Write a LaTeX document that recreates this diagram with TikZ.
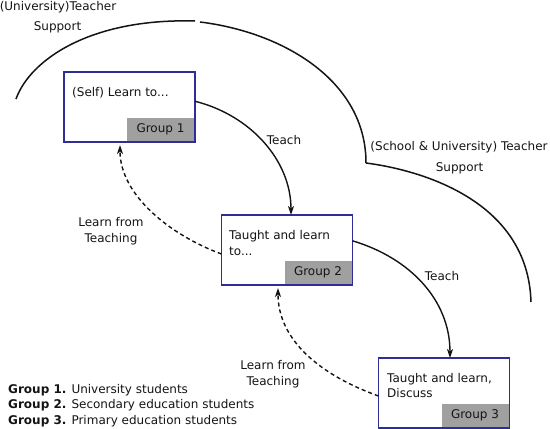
\documentclass[tikz,border=0pt]{standalone}
\usepackage{fontspec}
\setmainfont{DejaVu Sans}
\usetikzlibrary{arrows.meta}
\definecolor{boxblue}{RGB}{46,46,150}
\definecolor{taggray}{RGB}{160,160,160}
\definecolor{ink}{RGB}{20,20,20}
\tikzset{
  groupbox/.style={draw=boxblue, line width=1.6pt, fill=white, minimum width=131pt, minimum height=70pt, inner sep=0pt, outer sep=0pt},
  tagbox/.style={fill=taggray, minimum width=67pt, minimum height=23pt, inner sep=0pt, anchor=south east, font=\fontsize{12}{14}\selectfont, text=ink},
  txt/.style={inner sep=0pt, font=\fontsize{12}{15.5}\selectfont, text=ink},
  support/.style={draw=ink, line width=1.5pt},
  teach/.style={draw=ink, line width=1.4pt, -{Stealth[length=9pt,width=6pt,inset=2.5pt]}},
  learn/.style={draw=ink, line width=1.4pt, dash pattern=on 4pt off 3pt, -{Stealth[length=9pt,width=6pt,inset=2.5pt]}}
}
\begin{document}
\begin{tikzpicture}[x=1pt,y=-1pt]
\useasboundingbox (0,0) rectangle (550,429);
% support arcs
\coordinate (a0) at (16,99);
\coordinate (a1) at (195,21);
\coordinate (a2) at (200,22);
\coordinate (a3) at (366,163);
\coordinate (a4) at (531,302);
\draw[support] (a0) .. controls (30,60) and (90,18) .. (a1);
\draw[support] (a2) .. controls (282,32) and (366,80) .. (a3);
\draw[support] (a3) .. controls (420,170) and (528,200) .. (a4);
\node[txt] (t1a) at (58,7) {(University)Teacher};
\node[txt] (t1b) at (57.5,27) {Support};
\node[txt] (t2a) at (459,147) {(School \& University) Teacher};
\node[txt] (t2b) at (459.5,168) {Support};
% boxes
\node[groupbox] (b1) at (129.5,107) {};
\node[groupbox] (b2) at (287,250) {};
\node[groupbox] (b3) at (444,393) {};
\node[tagbox] (g1) at ([xshift=-0.8pt,yshift=0.8pt]b1.south east) {Group 1};
\node[tagbox] (g2) at ([xshift=-0.8pt,yshift=0.8pt]b2.south east) {Group 2};
\node[tagbox] (g3) at ([xshift=-0.8pt,yshift=0.8pt]b3.south east) {Group 3};
\node[txt, anchor=west] (l1) at (72,93) {(Self) Learn to...};
\node[txt, anchor=west, align=left] (l2) at (229,243) {Taught and learn\\to...};
\node[txt, anchor=west, align=left] (l3) at (387,385.5) {Taught and learn,\\Discuss};
% connectors
\draw[teach] (b1.5) .. controls (250,115) and (291,160) .. ([xshift=4pt]b2.north);
\draw[teach] (b2.8) .. controls (410,258) and (450,300) .. ([xshift=6pt]b3.north);
\draw[learn] ([yshift=-4pt]b2.west) .. controls (170,235) and (120,195) .. ([xshift=-9.5pt,yshift=-3pt]b1.south);
\draw[learn] ([yshift=-3pt]b3.west) .. controls (320,375) and (278,340) .. ([xshift=-9pt,yshift=-3pt]b2.south);
\node[txt] (k1) at (284,140) {Teach};
\node[txt] (k2) at (442,276) {Teach};
\node[txt, align=center] (m1) at (111,231) {Learn from\\Teaching};
\node[txt, align=center] (m2) at (273,374) {Learn from\\Teaching};
% legend
\node[txt, anchor=west] (n1) at (8,390) {\textbf{Group 1.} University students};
\node[txt, anchor=west] (n2) at (8,405.5) {\textbf{Group 2.} Secondary education students};
\node[txt, anchor=west] (n3) at (8,421) {\textbf{Group 3.} Primary education students};
\end{tikzpicture}
\end{document}
